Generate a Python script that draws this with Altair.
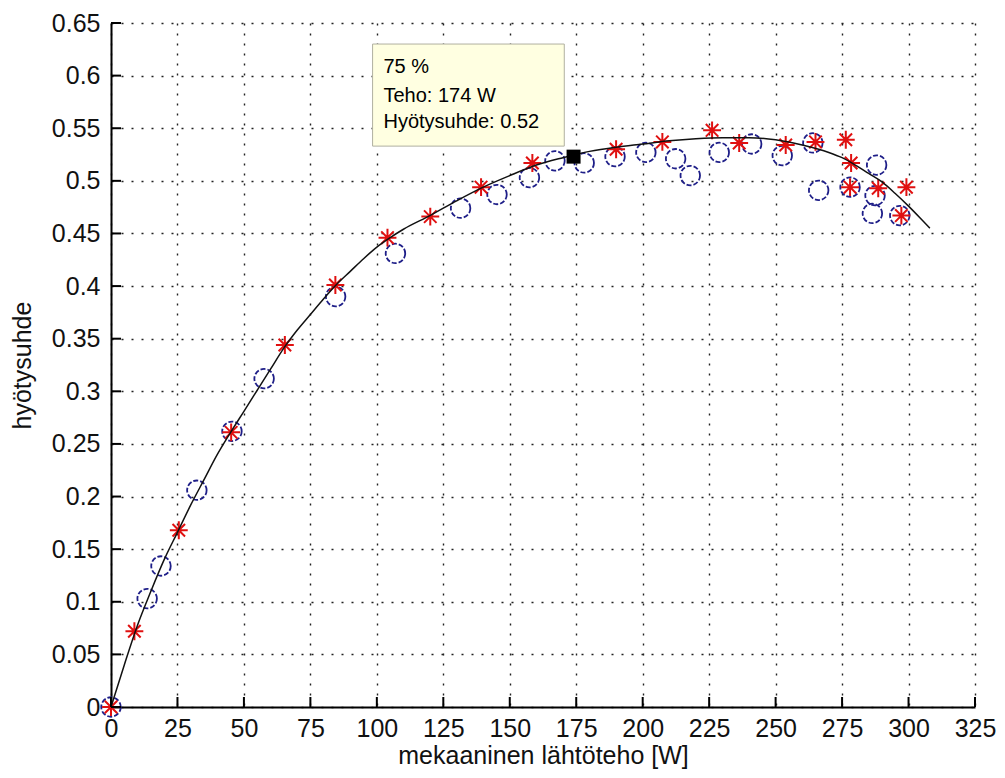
import altair as alt
import pandas as pd

W, H = 864, 684
FONT = "Liberation Sans"

# fitted curve
curve_x = [0, 5, 10, 15, 20, 25, 30, 35, 40, 45, 50, 55, 60, 65, 70, 75, 80, 85, 90, 95,
           100, 105, 110, 120, 130, 140, 150, 160, 170, 180, 190, 200, 210, 220, 230, 240,
           250, 260, 270, 275, 280, 285, 290, 295, 300, 305, 308]
curve_y = [0, 0.040, 0.078, 0.110, 0.140, 0.166, 0.192, 0.216, 0.240, 0.261, 0.281, 0.301,
           0.321, 0.341, 0.358, 0.373, 0.388, 0.402, 0.414, 0.426, 0.437, 0.446, 0.454,
           0.467, 0.481, 0.494, 0.505, 0.515, 0.522, 0.528, 0.532, 0.535, 0.538, 0.540,
           0.541, 0.541, 0.539, 0.534, 0.527, 0.522, 0.515, 0.507, 0.499, 0.488, 0.476,
           0.463, 0.455]

# blue circles
circ_x = [0, 13.6, 18.8, 32.3, 45.5, 57.6, 84.5, 107, 131.5, 145.2, 157.4, 167, 178,
          189.6, 201.2, 212.4, 217.9, 228.8, 241, 252.5, 264, 266.2, 278, 288, 287.4,
          286.4, 296.7]
circ_y = [0, 0.103, 0.134, 0.206, 0.262, 0.312, 0.390, 0.431, 0.474, 0.487, 0.503, 0.519,
          0.517, 0.523, 0.527, 0.521, 0.505, 0.527, 0.535, 0.524, 0.536, 0.491, 0.494,
          0.515, 0.486, 0.469, 0.467]

# red stars
star_x = [0, 8.8, 25.5, 45.2, 65.4, 84.4, 104, 120.1, 139.2, 158.5, 190, 207.4, 226.1,
          236.3, 253.8, 265, 276.4, 278.4, 278, 288.6, 299.2, 297.3]
star_y = [0, 0.072, 0.168, 0.261, 0.344, 0.401, 0.446, 0.466, 0.494, 0.517, 0.530, 0.537,
          0.548, 0.536, 0.534, 0.537, 0.539, 0.517, 0.494, 0.493, 0.494, 0.467]

# data tip
tip_x = [174]
tip_y = [0.523]
tip_lines = ["75 %", "Teho: 174 W", "Hyötysuhde: 0.52"]
tip_text_x = [102.5, 102.5, 102.5]
tip_text_y = [0.6024, 0.5751, 0.5501]
box_x = [98.4]
box_x2 = [170.5]
box_y = [0.630]
box_y2 = [0.533]

x_ticks = [0, 25, 50, 75, 100, 125, 150, 175, 200, 225, 250, 275, 300, 325]
y_ticks = [0, 0.05, 0.1, 0.15, 0.2, 0.25, 0.3, 0.35, 0.4, 0.45, 0.5, 0.55, 0.6, 0.65]

xs = alt.Scale(domain=[0, 325], nice=False, zero=False)
ys = alt.Scale(domain=[0, 0.65], nice=False, zero=False)

grid_kw = dict(grid=True, gridDash=[2, 8], gridColor="#222222", gridWidth=1.4,
               ticks=False, tickSize=0, domainColor="black", domainWidth=2,
               labelFont=FONT, labelFontSize=25, labelColor="#111111",
               titleFont=FONT, titleFontSize=25, titleFontWeight="normal",
               titleColor="#111111", labelOverlap=False, labelFlush=False)

xaxis = alt.Axis(values=x_ticks, title="mekaaninen lähtöteho [W]", format="d",
                 labelPadding=9, titleY=56, titleBaseline="alphabetic", **grid_kw)
yaxis = alt.Axis(values=y_ticks, title="hyötysuhde", format=".2~f",
                 labelPadding=11, titleX=-89, titleY=H / 2, titleAngle=270,
                 titleBaseline="middle", **grid_kw)

df_curve = pd.DataFrame({"x": curve_x, "y": curve_y})
df_circ = pd.DataFrame({"x": circ_x, "y": circ_y})
df_star = pd.DataFrame({"x": star_x, "y": star_y})
df_tip = pd.DataFrame({"x": tip_x, "y": tip_y})
df_box = pd.DataFrame({"x": box_x, "x2": box_x2, "y": box_y, "y2": box_y2})
df_txt = pd.DataFrame({"x": tip_text_x, "y": tip_text_y, "t": tip_lines})
df_xt = pd.DataFrame({"t": x_ticks})
df_yt = pd.DataFrame({"t": y_ticks})

circles = alt.Chart(df_circ).mark_point(
    shape="circle", filled=False, stroke="#1e1e88", strokeWidth=1.8,
    strokeDash=[5, 2], size=380, opacity=1
).encode(x=alt.X("x:Q", scale=xs, axis=xaxis), y=alt.Y("y:Q", scale=ys, axis=yaxis))

STAR = "M0,-1L0,1M-1,0L1,0M-0.7,-0.7L0.7,0.7M-0.7,0.7L0.7,-0.7"
stars = alt.Chart(df_star).mark_point(
    shape=STAR, filled=False, stroke="#e01010", strokeWidth=2, size=320, opacity=1
).encode(x=alt.X("x:Q", scale=xs), y=alt.Y("y:Q", scale=ys))

curve = alt.Chart(df_curve).mark_line(color="#111111", strokeWidth=1.5,
                                      interpolate="monotone").encode(
    x=alt.X("x:Q", scale=xs), y=alt.Y("y:Q", scale=ys))

xt = alt.Chart(df_xt).mark_rule(color="black", strokeWidth=2).encode(
    x=alt.X("t:Q", scale=xs), y=alt.value(H), y2=alt.value(H - 10))
yt = alt.Chart(df_yt).mark_rule(color="black", strokeWidth=2).encode(
    y=alt.Y("t:Q", scale=ys), x=alt.value(0), x2=alt.value(10))

tip = alt.Chart(df_tip).mark_point(shape="square", filled=True, color="black",
                                   size=196, opacity=1).encode(
    x=alt.X("x:Q", scale=xs), y=alt.Y("y:Q", scale=ys))

box = alt.Chart(df_box).mark_rect(fill="#ffffe1", stroke="#b0b0a0", strokeWidth=1).encode(
    x=alt.X("x:Q", scale=xs), x2="x2:Q", y=alt.Y("y:Q", scale=ys), y2="y2:Q")

txt = alt.Chart(df_txt).mark_text(align="left", baseline="alphabetic", font=FONT,
                                  fontSize=20, color="black").encode(
    x=alt.X("x:Q", scale=xs), y=alt.Y("y:Q", scale=ys), text="t:N")

chart = alt.layer(circles, stars, curve, xt, yt, tip, box, txt).properties(
    width=W, height=H,
    autosize=alt.AutoSizeParams(type="none"),
    padding={"left": 103, "top": 15, "right": 22, "bottom": 63},
    background="white",
).configure_view(stroke=None)

chart.save("out.html", embed_options={"renderer": "svg", "actions": False})
